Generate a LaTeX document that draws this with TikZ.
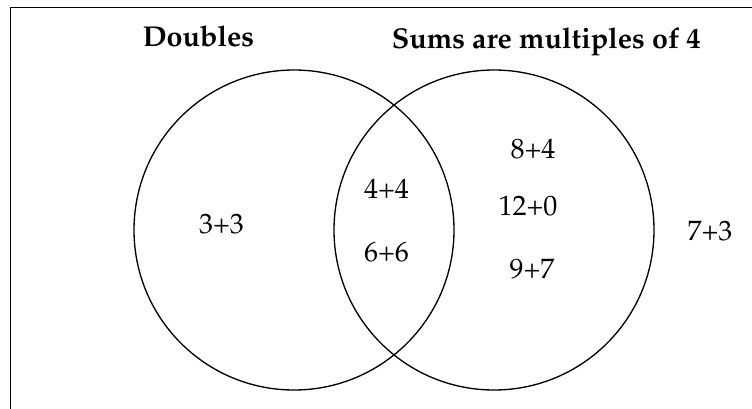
\documentclass[tikz,border=0pt]{standalone}
\usepackage[T1]{fontenc}
\usepackage{mathpazo}
\usepackage{tikz}
\usetikzlibrary{positioning}

\begin{document}
\begin{tikzpicture}[
    x=0.75pt, y=-0.75pt,
    set/.style={circle, draw, line width=1pt, minimum size=240pt, inner sep=0pt},
    title/.style={font=\fontsize{21.5}{25}\selectfont\bfseries, inner sep=0pt, anchor=base west},
    item/.style={font=\fontsize{21}{25}\selectfont, inner sep=0pt},
  ]
    \clip (0,0) rectangle (752,408);
    \fill[white] (0,0) rectangle (752,408);
    \draw[line width=1pt] (10.5,7.5) rectangle (790,440);

    \node[set] (dbl) at (294,230) {};
    \node[set] (mul) at (494,230) {};

    \node[title] (tdbl) at (142.5,46.7) {Doubles};
    \node[title] (tmul) at (391.5,48.3) {Sums are multiples of 4};

    \node[item] (a) at (221.5,224) {3+3};
    \node[item] (b) at (386.5,189) {4+4};
    \node[item] (c) at (386.5,252.5) {6+6};
    \node[item] (d) at (533,149) {8+4};
    \node[item] (e) at (528,206.5) {12+0};
    \node[item] (f) at (532,269.5) {9+7};
    \node[item] (g) at (710,231) {7+3};
  \end{tikzpicture}
\end{document}
